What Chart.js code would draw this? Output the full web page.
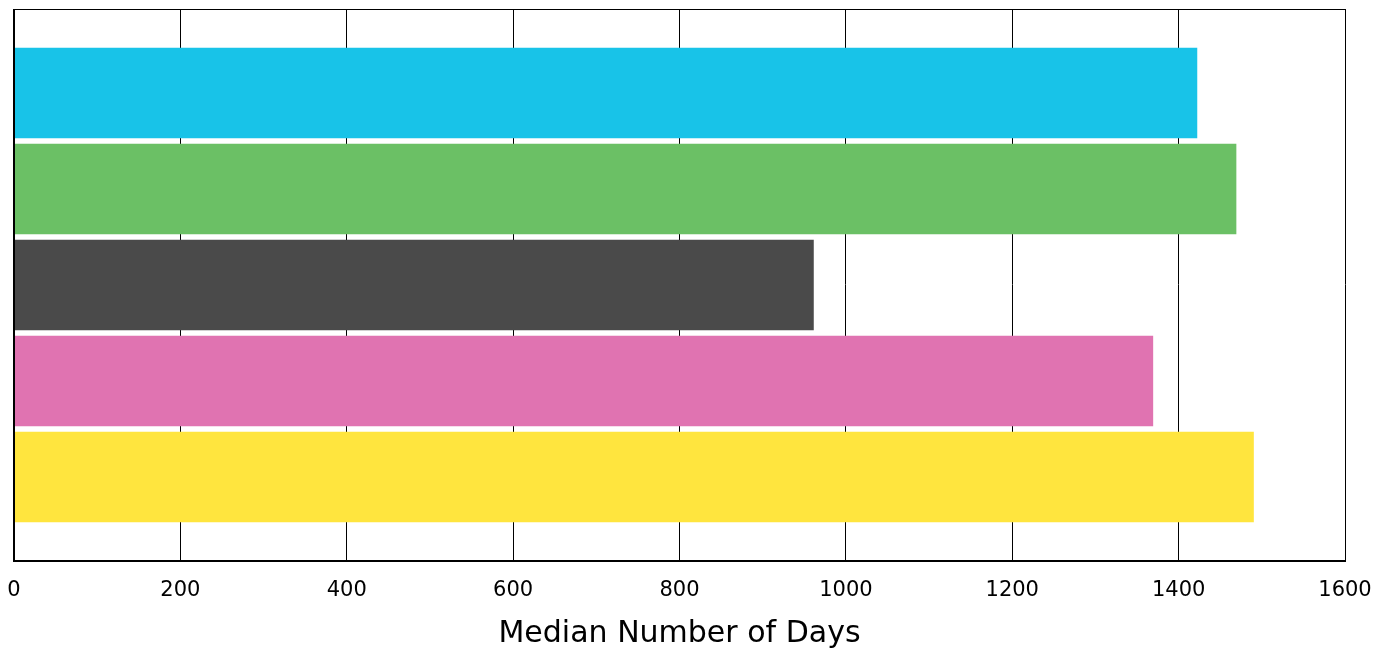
<!DOCTYPE html>
<html>
<head>
<meta charset="utf-8">
<script src="https://cdn.jsdelivr.net/npm/chart.js@4"></script>
<style>
  html, body { margin: 0; padding: 0; background: #fff; }
  #wrap { width: 1390px; height: 652px; }
</style>
</head>
<body>
<div id="wrap"><canvas id="daysChart"></canvas></div>
<script>
// horizontal bars, median number of days per group (no group labels shown)
const groups = ['A', 'B', 'C', 'D', 'E'];
const medianDays = [1422, 1469, 961, 1369, 1490];
const barColors = ['#18C3E8', '#6BC065', '#4A4A4A', '#E073B1', '#FFE53E'];
const xTicks = [0, 200, 400, 600, 800, 1000, 1200, 1400, 1600];

// y axis is hidden, so draw the left and top edges of the plot frame here
const frame = {
  id: 'frame',
  afterDatasetsDraw(chart) {
    const { ctx, chartArea: a } = chart;
    ctx.save();
    ctx.strokeStyle = '#000';
    ctx.lineWidth = 1;
    ctx.beginPath();
    ctx.moveTo(a.left, a.top + 0.5);
    ctx.lineTo(a.right, a.top + 0.5);
    ctx.stroke();
    ctx.lineWidth = 2;
    ctx.beginPath();
    ctx.moveTo(a.left, a.top);
    ctx.lineTo(a.left, a.bottom);
    ctx.stroke();
    ctx.restore();
  }
};

const ctx = document.getElementById('daysChart').getContext('2d');
new Chart(ctx, {
  type: 'bar',
  data: {
    datasets: [{
      label: 'Median Number of Days',
      data: medianDays.map((v, i) => ({ x: v, y: i })),
      backgroundColor: barColors,
      borderWidth: 0,
      barThickness: 90
    }]
  },
  plugins: [frame],
  options: {
    indexAxis: 'y',
    responsive: true,
    maintainAspectRatio: false,
    animation: false,
    layout: { padding: { top: 9, right: 45, left: 14, bottom: 0 } },
    plugins: {
      legend: { display: false },
      tooltip: { enabled: false }
    },
    scales: {
      x: {
        type: 'linear',
        min: 0,
        max: 1600,
        afterBuildTicks: s => { s.ticks = xTicks.map(v => ({ value: v })); },
        afterFit: s => {
          s.height = 91;
          s.paddingLeft = 0;
          s.paddingRight = 0;
        },
        grid: { color: '#000', lineWidth: 1, drawTicks: false },
        border: { color: '#000', width: 2 },
        ticks: {
          color: '#000',
          padding: 17,
          maxRotation: 0,
          callback: v => String(v),
          font: { family: 'DejaVu Sans', size: 21 }
        },
        title: {
          display: true,
          text: 'Median Number of Days',
          color: '#000',
          padding: { top: 0, bottom: 0 },
          font: { family: 'DejaVu Sans', size: 30 }
        }
      },
      y: {
        type: 'linear',
        display: false,
        reverse: true,
        offset: false,
        min: -0.875,
        max: groups.length - 0.125
      }
    }
  }
});
</script>
</body>
</html>
